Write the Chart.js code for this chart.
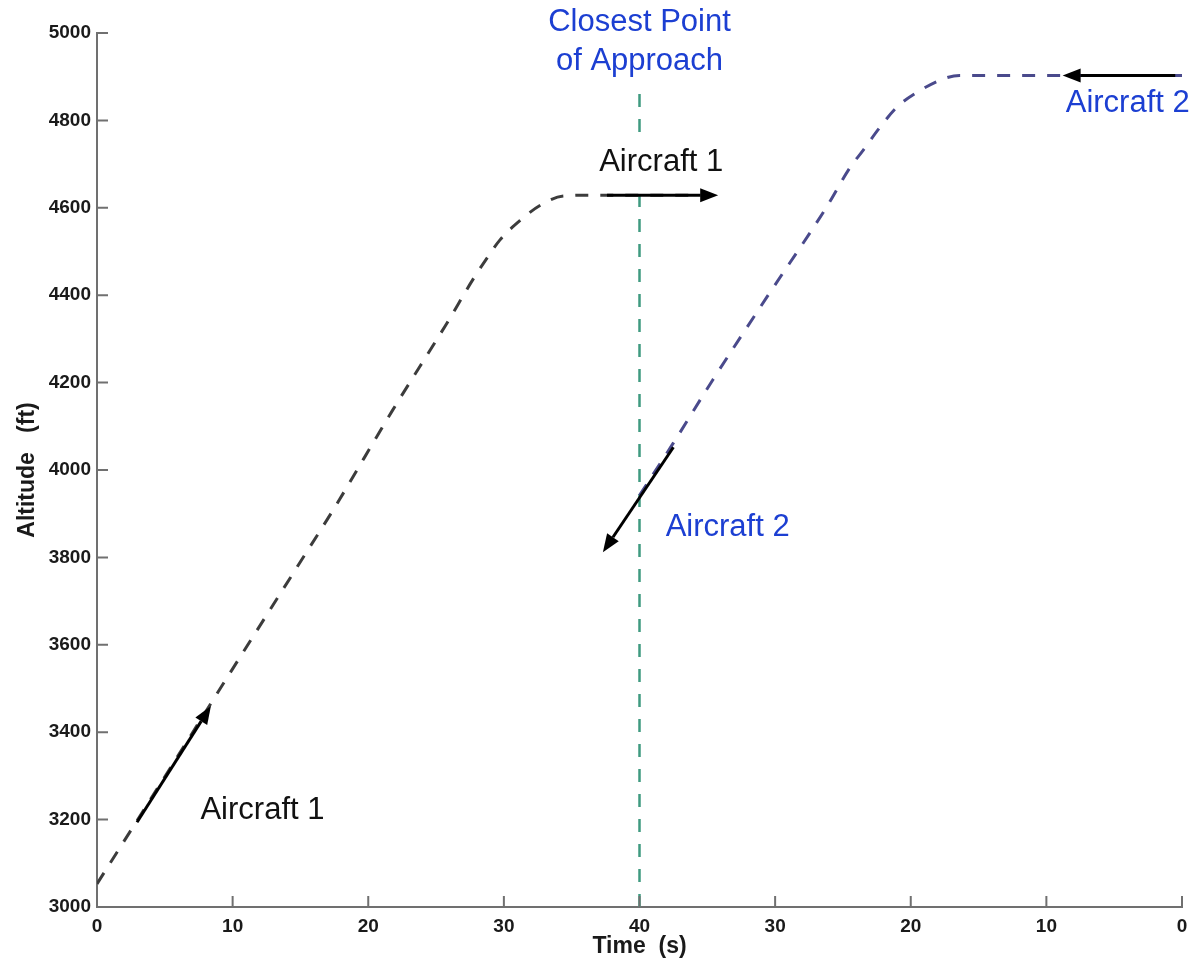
<!DOCTYPE html>
<html>
<head>
<meta charset="utf-8">
<script src="https://cdn.jsdelivr.net/npm/chart.js@4.4.0/dist/chart.umd.min.js"></script>
<style>
  html, body { margin: 0; padding: 0; background: #fff; }
  #wrap { width: 1196px; height: 970px; position: relative; }
</style>
</head>
<body>
<div id="wrap"><canvas id="altitude_chart"></canvas></div>
<script>
// Aircraft 1 : time elapsed (s) / altitude (ft)
const ac1_time = [0, 5, 10, 15, 17.4, 21.8, 25.8, 27.7, 28.8, 29.7, 31.2, 32.7, 34.4, 36.8, 40, 45];
const ac1_alt = [3053, 3298, 3545, 3790, 3908, 4137, 4336, 4435, 4487, 4526, 4571, 4606, 4627, 4629, 4629, 4629];

// Aircraft 2 : position on the shared axis (40 = CPA, 80 = time 0 on the right)
const ac2_pos = [40, 42.5, 45.4, 49.4, 53.8, 55.5, 56.5, 57.7, 59.0, 60.5, 62.4, 63.6, 80];
const ac2_alt = [3942, 4062, 4206, 4396, 4602, 4691, 4732, 4783, 4831, 4865, 4895, 4903, 4903];

// Closest point of approach
const cpa_pos = [40, 40];
const cpa_alt = [3000, 5000];

// axis ticks
const x_ticks = [0, 10, 20, 30, 40, 50, 60, 70, 80];
const y_min = 3000, y_max = 5000, y_step = 200;

const BLUE = '#1c3fd2';
const BLACK = '#111111';
const AXIS = '#707070';

// annotations (in data coordinates)
const notes = [
  {text: 'Closest Point', x: 40, y: 5024, color: BLUE, box: true},
  {text: 'of Approach', x: 40, y: 4935, color: BLUE, box: true},
  {text: 'Aircraft 1', x: 41.6, y: 4704, color: BLACK, box: true},
  {text: 'Aircraft 1', x: 12.2, y: 3222, color: BLACK, box: false},
  {text: 'Aircraft 2', x: 46.5, y: 3869, color: BLUE, box: false},
  {text: 'Aircraft 2', x: 76.0, y: 4839, color: BLUE, box: false}
];
const arrows = [
  {from: [2.95, 3194], to: [8.4, 3460]},
  {from: [37.6, 4629], to: [45.8, 4629]},
  {from: [42.5, 4052], to: [37.3, 3812]},
  {from: [79.5, 4903], to: [71.2, 4903]}
];

function toPoints(xs, ys) {
  return xs.map(function (v, i) { return {x: v, y: ys[i]}; });
}

const annotPlugin = {
  id: 'annot',
  afterDatasetsDraw(chart) {
    const ctx = chart.ctx;
    const xs = chart.scales.x, ys = chart.scales.y;
    ctx.save();

    // inner tick marks
    ctx.strokeStyle = AXIS;
    ctx.lineWidth = 2;
    ctx.beginPath();
    xs.ticks.forEach(function (t) {
      const p = xs.getPixelForValue(t.value);
      ctx.moveTo(p, xs.top);
      ctx.lineTo(p, xs.top - 11);
    });
    ys.ticks.forEach(function (t) {
      const p = ys.getPixelForValue(t.value);
      ctx.moveTo(ys.right, p);
      ctx.lineTo(ys.right + 11, p);
    });
    ctx.stroke();

    // labels
    ctx.font = '31px "Liberation Sans", Arial, sans-serif';
    ctx.textAlign = 'center';
    ctx.textBaseline = 'middle';
    notes.forEach(function (n) {
      const px = xs.getPixelForValue(n.x), py = ys.getPixelForValue(n.y);
      if (n.box) {
        const w = ctx.measureText(n.text).width + 18;
        ctx.fillStyle = '#ffffff';
        ctx.fillRect(px - w / 2, py - 24, w, 46);
      }
      ctx.fillStyle = n.color;
      ctx.fillText(n.text, px, py);
    });

    // arrows
    ctx.strokeStyle = '#000';
    ctx.fillStyle = '#000';
    ctx.lineWidth = 3;
    arrows.forEach(function (a) {
      const x0 = xs.getPixelForValue(a.from[0]), y0 = ys.getPixelForValue(a.from[1]);
      const x1 = xs.getPixelForValue(a.to[0]), y1 = ys.getPixelForValue(a.to[1]);
      const ang = Math.atan2(y1 - y0, x1 - x0);
      const hl = 18, hw = 7;
      const bx = x1 - hl * Math.cos(ang), by = y1 - hl * Math.sin(ang);
      ctx.beginPath();
      ctx.moveTo(x0, y0);
      ctx.lineTo(bx, by);
      ctx.stroke();
      ctx.beginPath();
      ctx.moveTo(x1, y1);
      ctx.lineTo(bx + hw * Math.sin(ang), by - hw * Math.cos(ang));
      ctx.lineTo(bx - hw * Math.sin(ang), by + hw * Math.cos(ang));
      ctx.closePath();
      ctx.fill();
    });
    ctx.restore();
  }
};

const tickFont = {family: '"Liberation Sans", Arial, sans-serif', size: 19, weight: 'bold'};
const titleFont = {family: '"Liberation Sans", Arial, sans-serif', size: 23, weight: 'bold'};

const config_altitude = {
  type: 'line',
  data: {
    datasets: [{
      label: 'Aircraft 1',
      data: toPoints(ac1_time, ac1_alt),
      borderColor: '#3c3c3c',
      borderWidth: 3,
      borderDash: [13, 12],
      pointRadius: 0,
      cubicInterpolationMode: 'monotone',
      fill: false
    },
    {
      label: 'Aircraft 2',
      data: toPoints(ac2_pos, ac2_alt),
      borderColor: '#4a4a8c',
      borderWidth: 3,
      borderDash: [13, 12],
      pointRadius: 0,
      cubicInterpolationMode: 'monotone',
      fill: false
    },
    {
      label: 'CPA',
      data: toPoints(cpa_pos, cpa_alt),
      borderColor: '#3f9a80',
      borderWidth: 2.5,
      borderDash: [13, 12],
      pointRadius: 0,
      fill: false
    }]
  },
  options: {
    responsive: true,
    maintainAspectRatio: false,
    animation: false,
    layout: {padding: {top: 33, right: 14, bottom: 0, left: 0}},
    plugins: {legend: {display: false}, tooltip: {enabled: false}},
    scales: {
      x: {
        type: 'linear',
        min: 0,
        max: 80,
        afterBuildTicks: function (scale) {
          scale.ticks = x_ticks.map(function (v) { return {value: v}; });
        },
        afterFit: function (scale) { scale.height = 63; },
        grid: {display: true, drawOnChartArea: false, drawTicks: false},
        border: {display: true, color: AXIS, width: 2},
        ticks: {
          padding: 8,
          color: '#1a1a1a',
          font: tickFont,
          maxRotation: 0,
          autoSkip: false,
          callback: function (v) { return v <= 40 ? v : 80 - v; }
        },
        title: {display: true, text: 'Time  (s)', color: '#1a1a1a', font: titleFont, padding: {top: 0, bottom: 10}}
      },
      y: {
        min: y_min,
        max: y_max,
        afterFit: function (scale) { scale.width = 97; },
        grid: {display: true, drawOnChartArea: false, drawTicks: false},
        border: {display: true, color: AXIS, width: 2},
        ticks: {
          stepSize: y_step,
          padding: 6,
          color: '#1a1a1a',
          font: tickFont,
          callback: function (v) { return String(v); }
        },
        title: {display: true, text: 'Altitude   (ft)', color: '#1a1a1a', font: titleFont, padding: {top: 14, bottom: 0}}
      }
    }
  },
  plugins: [annotPlugin]
};

const altitude_chart = new Chart(
  document.getElementById('altitude_chart'),
  config_altitude
);
</script>
</body>
</html>
